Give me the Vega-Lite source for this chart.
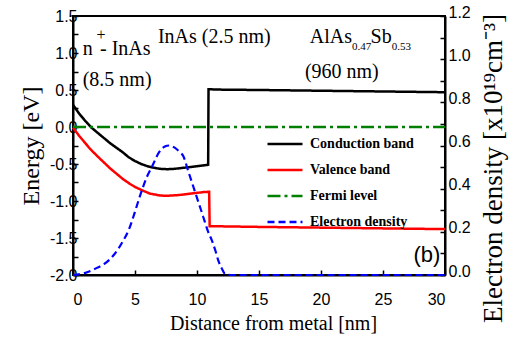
{
  "$schema": "https://vega.github.io/schema/vega-lite/v6.json",
  "width": 372,
  "height": 259,
  "autosize": {"type": "none"},
  "padding": {"left": 73, "top": 16, "right": 76, "bottom": 69},
  "background": "white",
  "config": {
    "view": {"stroke": "black", "strokeWidth": 2},
    "axis": {
      "grid": false,
      "domainColor": "black",
      "domainWidth": 2,
      "tickColor": "black",
      "tickWidth": 1.5,
      "tickSize": -5,
      "labelFont": "Liberation Sans",
      "labelFontSize": 16,
      "labelColor": "black",
      "labelOverlap": false,
      "titleFont": "Liberation Serif",
      "titleFontWeight": "normal",
      "titleColor": "black"
    },
    "legend": {
      "orient": "none",
      "legendX": 193,
      "legendY": 109,
      "title": null,
      "symbolType": "stroke",
      "symbolSize": 1225,
      "symbolStrokeWidth": 2.5,
      "labelFont": "Liberation Serif",
      "labelFontSize": 14,
      "labelFontWeight": "bold",
      "labelColor": "black",
      "rowPadding": -2.5,
      "labelOffset": 6,
      "padding": 0
    }
  },
  "datasets": {
    "bands": [
      {"series": "Conduction band", "x": 0, "E": 0.30},
      {"series": "Conduction band", "x": 0.5, "E": 0.18},
      {"series": "Conduction band", "x": 1, "E": 0.08},
      {"series": "Conduction band", "x": 1.5, "E": -0.01},
      {"series": "Conduction band", "x": 2, "E": -0.08},
      {"series": "Conduction band", "x": 2.5, "E": -0.15},
      {"series": "Conduction band", "x": 3, "E": -0.22},
      {"series": "Conduction band", "x": 3.5, "E": -0.28},
      {"series": "Conduction band", "x": 4, "E": -0.34},
      {"series": "Conduction band", "x": 4.5, "E": -0.41},
      {"series": "Conduction band", "x": 5, "E": -0.46},
      {"series": "Conduction band", "x": 5.5, "E": -0.50},
      {"series": "Conduction band", "x": 6, "E": -0.53},
      {"series": "Conduction band", "x": 6.5, "E": -0.55},
      {"series": "Conduction band", "x": 7, "E": -0.565},
      {"series": "Conduction band", "x": 7.6, "E": -0.57},
      {"series": "Conduction band", "x": 8.2, "E": -0.565},
      {"series": "Conduction band", "x": 9, "E": -0.55},
      {"series": "Conduction band", "x": 10, "E": -0.53},
      {"series": "Conduction band", "x": 10.9, "E": -0.51},
      {"series": "Conduction band", "x": 10.93, "E": 0.51},
      {"series": "Conduction band", "x": 12, "E": 0.505},
      {"series": "Conduction band", "x": 15, "E": 0.50},
      {"series": "Conduction band", "x": 20, "E": 0.49},
      {"series": "Conduction band", "x": 25, "E": 0.48},
      {"series": "Conduction band", "x": 30, "E": 0.47},
      {"series": "Valence band", "x": 0, "E": -0.01},
      {"series": "Valence band", "x": 0.5, "E": -0.12},
      {"series": "Valence band", "x": 1, "E": -0.22},
      {"series": "Valence band", "x": 1.4, "E": -0.30},
      {"series": "Valence band", "x": 2, "E": -0.40},
      {"series": "Valence band", "x": 2.5, "E": -0.48},
      {"series": "Valence band", "x": 3, "E": -0.56},
      {"series": "Valence band", "x": 3.5, "E": -0.63},
      {"series": "Valence band", "x": 4, "E": -0.70},
      {"series": "Valence band", "x": 4.6, "E": -0.77},
      {"series": "Valence band", "x": 5, "E": -0.81},
      {"series": "Valence band", "x": 5.5, "E": -0.85},
      {"series": "Valence band", "x": 6.2, "E": -0.90},
      {"series": "Valence band", "x": 7, "E": -0.925},
      {"series": "Valence band", "x": 7.5, "E": -0.93},
      {"series": "Valence band", "x": 8.5, "E": -0.92},
      {"series": "Valence band", "x": 9.5, "E": -0.90},
      {"series": "Valence band", "x": 10.5, "E": -0.88},
      {"series": "Valence band", "x": 10.98, "E": -0.875},
      {"series": "Valence band", "x": 11.02, "E": -1.34},
      {"series": "Valence band", "x": 15, "E": -1.35},
      {"series": "Valence band", "x": 20, "E": -1.36},
      {"series": "Valence band", "x": 25, "E": -1.37},
      {"series": "Valence band", "x": 30, "E": -1.38},
      {"series": "Fermi level", "x": 0, "E": 0},
      {"series": "Fermi level", "x": 30, "E": 0}
    ],
    "density": [
      {"series": "Electron density", "x": 0, "n": 0.0},
      {"series": "Electron density", "x": 1, "n": 0.01},
      {"series": "Electron density", "x": 2, "n": 0.035},
      {"series": "Electron density", "x": 2.5, "n": 0.05},
      {"series": "Electron density", "x": 3.25, "n": 0.09},
      {"series": "Electron density", "x": 4.06, "n": 0.16},
      {"series": "Electron density", "x": 4.5, "n": 0.21},
      {"series": "Electron density", "x": 4.87, "n": 0.27},
      {"series": "Electron density", "x": 5.2, "n": 0.33},
      {"series": "Electron density", "x": 5.54, "n": 0.39},
      {"series": "Electron density", "x": 6.0, "n": 0.46},
      {"series": "Electron density", "x": 6.35, "n": 0.50},
      {"series": "Electron density", "x": 6.96, "n": 0.57},
      {"series": "Electron density", "x": 7.4, "n": 0.595},
      {"series": "Electron density", "x": 7.77, "n": 0.60},
      {"series": "Electron density", "x": 8.2, "n": 0.59},
      {"series": "Electron density", "x": 8.6, "n": 0.57},
      {"series": "Electron density", "x": 8.9, "n": 0.55},
      {"series": "Electron density", "x": 9.3, "n": 0.48},
      {"series": "Electron density", "x": 9.7, "n": 0.41},
      {"series": "Electron density", "x": 10.1, "n": 0.34},
      {"series": "Electron density", "x": 10.5, "n": 0.27},
      {"series": "Electron density", "x": 10.9, "n": 0.20},
      {"series": "Electron density", "x": 11.2, "n": 0.16},
      {"series": "Electron density", "x": 11.5, "n": 0.11},
      {"series": "Electron density", "x": 11.7, "n": 0.07},
      {"series": "Electron density", "x": 12.0, "n": 0.03},
      {"series": "Electron density", "x": 12.26, "n": 0.005},
      {"series": "Electron density", "x": 12.7, "n": 0.0},
      {"series": "Electron density", "x": 20, "n": 0.0},
      {"series": "Electron density", "x": 30, "n": 0.0}
    ],
    "labels": [
      {"x": 0.78, "E": 0.97, "label": "n"},
      {"x": 2.18, "E": 0.97, "label": "- InAs"},
      {"x": 0.78, "E": 0.555, "label": "(8.5 nm)"},
      {"x": 6.85, "E": 1.14, "label": "InAs (2.5 nm)"},
      {"x": 19.1, "E": 1.13, "label": "AlAs"},
      {"x": 24.0, "E": 1.13, "label": "Sb"},
      {"x": 18.7, "E": 0.66, "label": "(960 nm)"}
    ],
    "subs": [
      {"x": 22.5, "E": 1.04, "label": "0.47"},
      {"x": 25.7, "E": 1.04, "label": "0.53"}
    ],
    "sups": [
      {"x": 2.26, "E": 1.18, "label": "+"}
    ],
    "panel": [
      {"x": 27.45, "E": -1.82, "label": "(b)"}
    ]
  },
  "layer": [
    {
      "layer": [
        {
          "data": {"name": "bands"},
          "mark": {"type": "line", "strokeWidth": 2.5},
          "encoding": {
            "x": {
              "field": "x", "type": "quantitative",
              "scale": {"domain": [0, 30], "nice": false},
              "axis": {
                "title": "Distance from metal [nm]",
                "titleFontSize": 20,
                "titlePadding": 6,
                "titleX": 200,
                "values": [0, 2.5, 5, 7.5, 10, 12.5, 15, 17.5, 20, 22.5, 25, 27.5, 30],
                "labelExpr": "datum.value % 5 === 0 ? datum.label : ''",
                "labelOverlap": false,
                "labelPadding": 21
              }
            },
            "y": {
              "field": "E", "type": "quantitative",
              "scale": {"domain": [-2, 1.5], "nice": false},
              "axis": {
                "title": "Energy [eV]",
                "titleFontSize": 24,
                "titlePadding": 6,
                "values": [-2, -1.75, -1.5, -1.25, -1, -0.75, -0.5, -0.25, 0, 0.25, 0.5, 0.75, 1, 1.25, 1.5],
                "format": ".1f",
                "labelExpr": "(datum.value * 4) % 2 === 0 ? replace(datum.label, '−', '-') : ''",
                "labelOverlap": false,
                "labelPadding": 1
              }
            },
            "color": {
              "field": "series", "type": "nominal",
              "scale": {
                "domain": ["Conduction band", "Valence band", "Fermi level", "Electron density"],
                "range": ["black", "#ff0000", "#008000", "#0000ff"]
              }
            },
            "strokeDash": {
              "field": "series", "type": "nominal",
              "scale": {
                "domain": ["Conduction band", "Valence band", "Fermi level", "Electron density"],
                "range": [[1, 0], [1, 0], [13, 4, 3, 4], [7, 4]]
              }
            }
          }
        },
        {
          "data": {"name": "labels"},
          "mark": {"type": "text", "font": "Liberation Serif", "fontSize": 20, "align": "left", "baseline": "alphabetic", "color": "black"},
          "encoding": {
            "x": {"field": "x", "type": "quantitative"},
            "y": {"field": "E", "type": "quantitative", "axis": null},
            "text": {"field": "label"}
          }
        },
        {
          "data": {"name": "subs"},
          "mark": {"type": "text", "font": "Liberation Serif", "fontSize": 11, "align": "left", "baseline": "alphabetic", "color": "black"},
          "encoding": {
            "x": {"field": "x", "type": "quantitative"},
            "y": {"field": "E", "type": "quantitative", "axis": null},
            "text": {"field": "label"}
          }
        },
        {
          "data": {"name": "sups"},
          "mark": {"type": "text", "font": "Liberation Serif", "fontSize": 16, "align": "center", "baseline": "alphabetic", "color": "black"},
          "encoding": {
            "x": {"field": "x", "type": "quantitative"},
            "y": {"field": "E", "type": "quantitative", "axis": null},
            "text": {"field": "label"}
          }
        },
        {
          "data": {"name": "panel"},
          "mark": {"type": "text", "font": "Liberation Sans", "fontSize": 22, "align": "left", "baseline": "alphabetic", "color": "black"},
          "encoding": {
            "x": {"field": "x", "type": "quantitative"},
            "y": {"field": "E", "type": "quantitative", "axis": null},
            "text": {"field": "label"}
          }
        }
      ],
      "resolve": {"axis": {"y": "independent"}}
    },
    {
      "data": {"name": "density"},
      "mark": {"type": "line", "strokeWidth": 2.2, "interpolate": "monotone"},
      "encoding": {
        "x": {"field": "x", "type": "quantitative"},
        "y": {
          "field": "n", "type": "quantitative",
          "scale": {"domain": [0, 1.2], "nice": false},
          "axis": {
            "orient": "right",
            "title": "Electron density [x10¹⁹cm⁻³]",
            "titleFontSize": 27,
            "titleAngle": 270,
            "titleBaseline": "top",
            "titlePadding": 10,
            "titleY": 152,
            "values": [0, 0.1, 0.2, 0.3, 0.4, 0.5, 0.6, 0.7, 0.8, 0.9, 1.0, 1.1, 1.2],
            "format": ".1f",
            "labelExpr": "round(datum.value*10) % 2 === 0 ? datum.label : ''",
            "labelOverlap": false,
            "labelPadding": 8,
            "labelOffset": -4
          }
        },
        "color": {"field": "series", "type": "nominal"},
        "strokeDash": {"field": "series", "type": "nominal"}
      }
    }
  ],
  "resolve": {"scale": {"y": "independent"}}
}
